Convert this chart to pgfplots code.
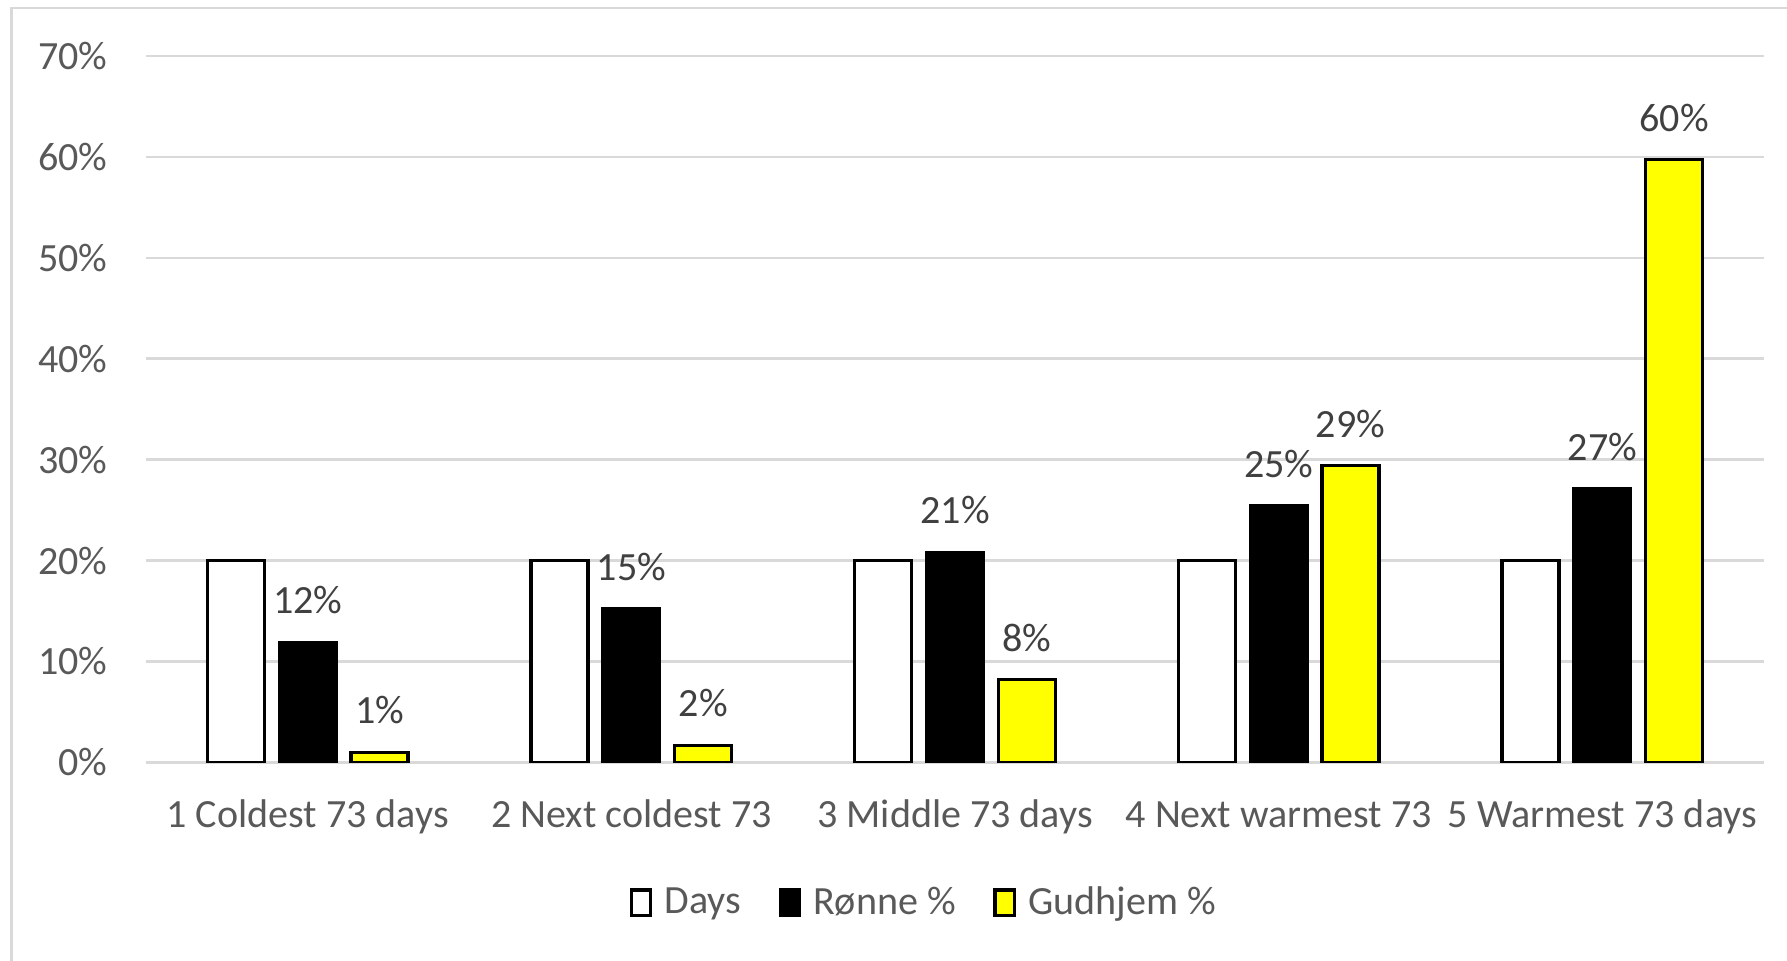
\documentclass[border=0pt]{standalone}
\usepackage{fontspec}
\setmainfont{Carlito}
\usepackage{pgfplots}
\pgfplotsset{compat=1.18}

\definecolor{gridgray}{HTML}{D9D9D9}
\definecolor{ticktext}{HTML}{595959}
\definecolor{labeltext}{HTML}{404040}
\definecolor{gudyellow}{HTML}{FFFF00}

\newcommand{\chartfont}{\fontsize{10}{12}\selectfont}

\begin{document}
\begin{tikzpicture}
\begin{axis}[
  at={(1.28cm,1.74cm)}, anchor=south west,
  scale only axis, width=14.20cm, height=6.20cm,
  xmin=0.5, xmax=5.5, ymin=0, ymax=70,
  ybar=0.13cm, bar width=0.50cm,
  xtick={1,2,3,4,5},
  xticklabels={1 Coldest 73 days, 2 Next coldest 73, 3 Middle 73 days, 4 Next warmest 73, 5 Warmest 73 days},
  ytick={0,10,...,70},
  yticklabel={\pgfmathprintnumber{\tick}\%},
  /pgf/number format/assume math mode=true,
  major tick length=0pt,
  axis line style={draw=none},
  ymajorgrids,
  grid style={gridgray, line width=0.6pt},
  tick label style={font=\chartfont, text=ticktext},
  yticklabel style={anchor=east, inner sep=0pt, xshift=-0.33cm},
  xticklabel style={anchor=base, inner sep=0pt, yshift=-0.57cm},
  legend style={at={(0.484,-0.2)}, anchor=center, draw=none, fill=none,
    font=\chartfont, text=ticktext, legend columns=-1,
    nodes={inner xsep=0.11cm},
    /tikz/every even column/.append style={column sep=0.22cm}},
  legend image code/.code={\draw[#1, line width=0.8pt] (0cm,-0.1cm) rectangle (0.17cm,0.12cm);},
  every node near coord/.append style={font=\chartfont, text=labeltext, inner sep=0pt, anchor=base, yshift=0.25cm},
]
% share of days in each temperature band
\addplot[draw=black, fill=white, line width=0.8pt]
  coordinates {(1,20) (2,20) (3,20) (4,20) (5,20)};
% Rønne
\addplot[draw=black, fill=black, line width=0.8pt,
  nodes near coords={\pgfmathprintnumber[fixed,precision=0]{\pgfplotspointmeta}\%}]
  coordinates {(1,11.9) (2,15.2) (3,20.8) (4,25.4) (5,27.1)};
% Gudhjem
\addplot[draw=black, fill=gudyellow, line width=0.8pt,
  nodes near coords={\pgfmathprintnumber[fixed,precision=0]{\pgfplotspointmeta}\%}]
  coordinates {(1,1.0) (2,1.7) (3,8.2) (4,29.4) (5,59.7)};
\legend{Days, Rønne \%, Gudhjem \%}
\end{axis}
% chart area frame
\draw[gridgray, line width=0.7pt] (0.10cm,0cm) -- (0.10cm,8.36cm) -- (15.68cm,8.36cm);
\pgfresetboundingbox
\useasboundingbox (0,0) rectangle (15.68cm,8.43cm);
\end{tikzpicture}
\end{document}
